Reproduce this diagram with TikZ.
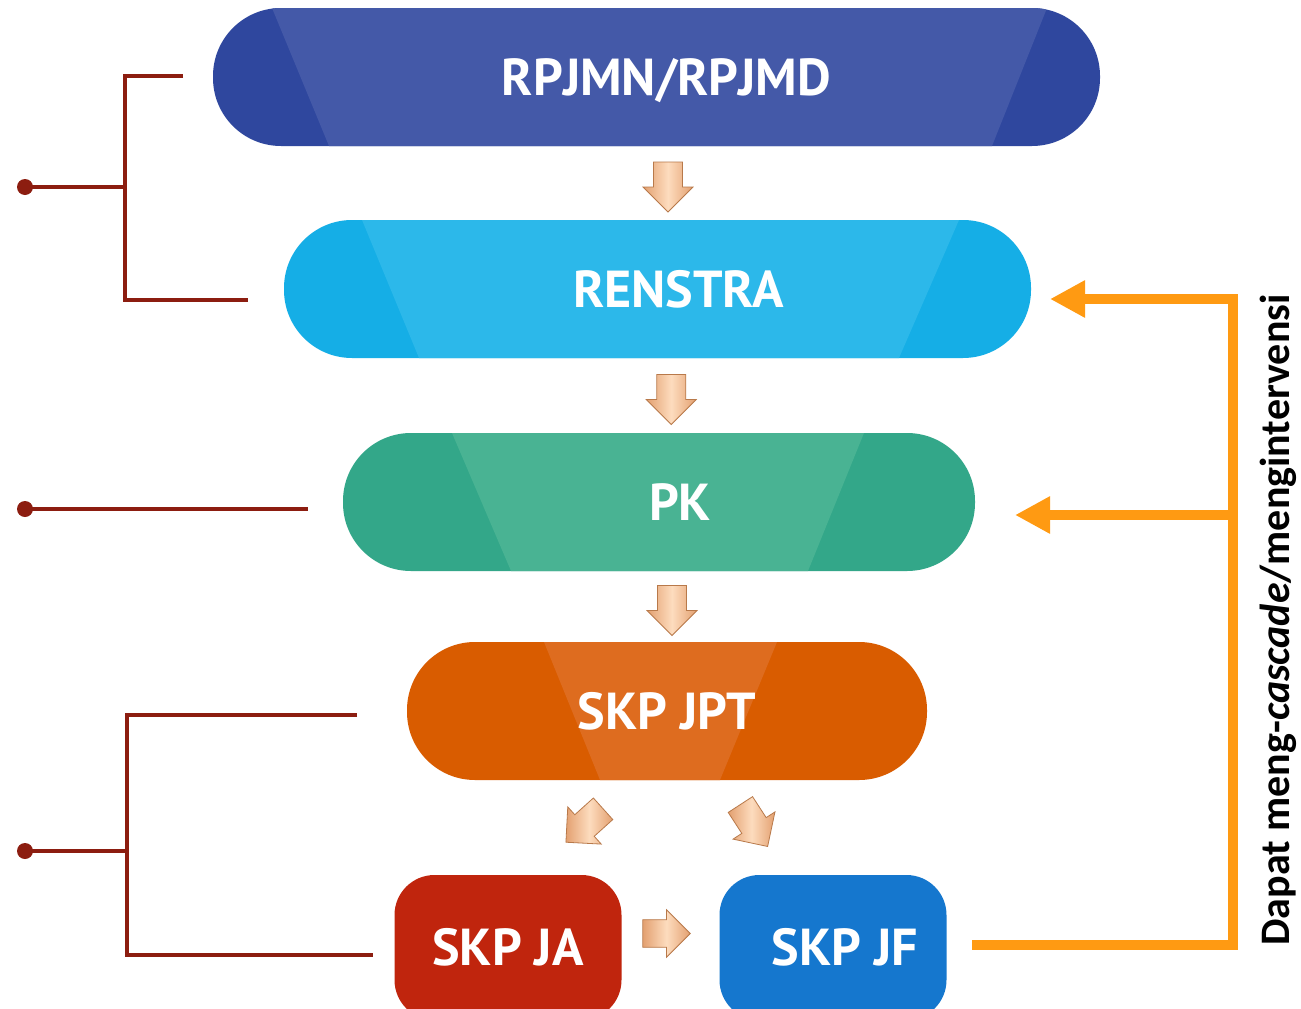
\documentclass[tikz,border=0pt]{standalone}
\usepackage{fontspec}
\newfontfamily\boxfont{PT Sans}
\newfontfamily\sidefont{Carlito}
\usetikzlibrary{calc,arrows.meta}
\definecolor{rpD}{HTML}{2F479E}
\definecolor{rpL}{HTML}{4459A8}
\definecolor{reD}{HTML}{15AEE6}
\definecolor{reL}{HTML}{2CB8EA}
\definecolor{pkD}{HTML}{33A789}
\definecolor{pkL}{HTML}{49B393}
\definecolor{jpD}{HTML}{D95C00}
\definecolor{jpL}{HTML}{DE6C1F}
\definecolor{jaC}{HTML}{C0250D}
\definecolor{jfC}{HTML}{1577CE}
\definecolor{brk}{HTML}{8C1D10}
\definecolor{org}{HTML}{FF9A12}
\definecolor{pchD}{HTML}{E3A070}
\definecolor{pchL}{HTML}{FDDCBE}
\definecolor{pchE}{HTML}{B8794A}
\tikzset{
  boxtext/.style={inner sep=0pt, text=white, font=\boxfont\bfseries\fontsize{52}{60}\selectfont, text height=36pt, text depth=0pt},
  stadium/.style={boxtext, rounded corners=68pt, minimum height=138pt},
  rbox/.style={boxtext, rounded corners=40pt, minimum width=227pt, minimum height=145pt},
  lit/.style n args={5}{path picture={\fill[#1, sharp corners]
      ($(path picture bounding box.north west)+(#2,0)$) --
      ($(path picture bounding box.north east)+(-#4,0)$) --
      ($(path picture bounding box.south east)+(-#5,0)$) --
      ($(path picture bounding box.south west)+(#3,0)$) -- cycle;}},
  brkline/.style={draw=brk, line width=3.5pt},
  orgline/.style={draw=org, line width=10pt, -{Triangle[length=35pt,width=35pt]}},
  arrowfill/.style={draw=pchE, line width=0.8pt, left color=pchD, right color=pchD, middle color=pchL},
  blockarrow/.pic={\path[arrowfill] (-14.5,-25) -- (14.5,-25) -- (14.5,0) -- (25,0) -- (0,25) -- (-25,0) -- (-14.5,0) -- cycle;}
}
\begin{document}
\begin{tikzpicture}[x=1pt,y=-1pt]
\useasboundingbox (0,0) rectangle (1301,1009);
\clip (0,0) rectangle (1301,1009);
\fill[white] (0,0) rectangle (1301,1009);

\node[stadium, fill=rpD, minimum width=887pt, lit={rpL}{59}{116}{53}{108}] (rpjmn) at (656.5,77) {\hspace*{20pt}RPJMN/RPJMD};
\node[stadium, fill=reD, minimum width=747pt, lit={reL}{78}{135}{72}{132}] (renstra) at (657.5,289) {\hspace*{42pt}RENSTRA};
\node[stadium, fill=pkD, minimum width=632pt, lit={pkL}{109}{168}{111}{167}] (pk) at (659,502) {\hspace*{42pt}PK};
\node[stadium, fill=jpD, minimum width=520pt, lit={jpL}{137}{193}{150}{207}] (jpt) at (667,711) {SKP JPT};
\node[rbox, fill=jaC] (ja) at (508,947.5) {SKP JA};
\node[rbox, fill=jfC] (jf) at (833,947.5) {\hspace*{24pt}SKP JF};

% block arrows
\path ($(rpjmn.south)!0.5!(renstra.north)+(11,4)$) pic {blockarrow};
\path ($(renstra.south)!0.5!(pk.north)+(13,4)$) pic {blockarrow};
\path ($(pk.south)!0.5!(jpt.north)+(9,4)$) pic {blockarrow};
\path ($(jpt.south)!0.5!(ja.north)+(-3,-2)$) pic[rotate=-48] {blockarrow};
\path ($(jpt.south)!0.5!(jf.north)+(4,-2)$) pic[rotate=33] {blockarrow};
\path ($(ja.east)!0.5!(jf.west)+(-4,-14)$) pic[rotate=90, scale=0.95] {blockarrow};

% left brackets
\coordinate (d1) at (25,187);
\coordinate (v1) at (125,187);
\coordinate (b1a) at (183,76);
\coordinate (b1b) at (248,300);
\draw[brkline] (b1a) -| (v1) |- (b1b);
\draw[brkline] (d1) -- (v1);
\fill[brk] (d1) circle (8pt);

\coordinate (d2) at (25,509);
\coordinate (b2) at (308,509);
\draw[brkline] (d2) -- (b2);
\fill[brk] (d2) circle (8pt);

\coordinate (d3) at (25,851);
\coordinate (v3) at (127,851);
\coordinate (b3a) at (357,715);
\coordinate (b3b) at (373,955);
\draw[brkline] (b3a) -| (v3) |- (b3b);
\draw[brkline] (d3) -- (v3);
\fill[brk] (d3) circle (8pt);

% orange feedback
\coordinate (o1) at (972,945);
\coordinate (ov) at (1233,515);
\coordinate (t1) at (1050,299);
\coordinate (t2) at (1015,515);
\draw[orgline] (o1) -| (t1 -| ov) -- (t1);
\draw[orgline] (ov) -- (t2);

\node[rotate=90, inner sep=0pt, font=\sidefont\bfseries\fontsize{42}{48}\selectfont] (side) at (1278,620) {Dapat meng-\textit{cascade}/mengintervensi};
\end{tikzpicture}
\end{document}
